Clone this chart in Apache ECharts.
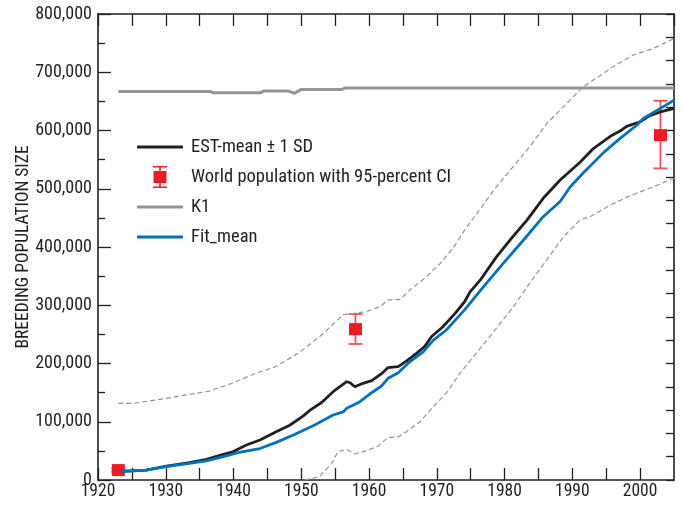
<!DOCTYPE html>
<html>
<head>
<meta charset="utf-8">
<script src="https://cdn.jsdelivr.net/npm/echarts@6/dist/echarts.min.js"></script>
<style>
  html, body { margin: 0; padding: 0; background: #fff; }
  #chart { width: 683px; height: 505px; }
</style>
</head>
<body>
<div id="chart"></div>
<script>
// Breeding population size, 1920-2005: estimated mean, +/- 1 SD band,
// fitted mean, carrying capacity K1 and world counts with 95% CI.

const estMean = [
  [1923.5, 15000], [1925, 15500], [1927.1, 17000], [1930.1, 24000], [1933.5, 30000],
  [1936, 35500], [1938.5, 44000], [1939.9, 48500], [1941.9, 60000], [1943.9, 68600],
  [1946.3, 83000], [1948.3, 94000], [1950.3, 110000], [1951.3, 120000], [1953, 133000],
  [1954.7, 151600], [1956.7, 168700], [1957.2, 167000], [1957.9, 160000], [1959.1, 166000],
  [1960.4, 170500], [1961.9, 183000], [1962.8, 193000], [1964.3, 194600], [1965.5, 204000],
  [1967, 217500], [1968.2, 229000], [1969.2, 246000], [1970.9, 263000], [1972.7, 286000],
  [1974.1, 306000], [1974.9, 323000], [1976.4, 343000], [1978.8, 383000], [1980.8, 412000],
  [1983.3, 446000], [1985.7, 483600], [1988.2, 515000], [1991.1, 545000], [1993.1, 569000],
  [1995.6, 590000], [1997.3, 601000], [1998, 607000], [2000, 615000], [2001.5, 626000],
  [2003, 632000], [2005, 638000]
];

const estUpper = [
  [1923, 131500], [1925.2, 131500], [1926.6, 134000], [1930, 140000], [1933.5, 147000],
  [1936.4, 152600], [1939.8, 166000], [1943.2, 183000], [1946.1, 194000], [1949.5, 217000],
  [1952.7, 246000], [1956.2, 284000], [1957.7, 286000], [1959.6, 289000], [1961.6, 297500],
  [1962.8, 309000], [1964.6, 310000], [1966, 326000], [1968.5, 349000], [1970.5, 372000],
  [1972.4, 398000], [1974.1, 429000], [1978.8, 503500], [1983.7, 572000], [1986.2, 612000],
  [1988.7, 641000], [1991.6, 675000], [1994.6, 698000], [1996, 709500], [1999, 729600],
  [2002, 741000], [2005, 758000]
];

const estLower = [
  [1950.5, 0], [1952.7, 5700], [1954.5, 28600], [1955.4, 48600], [1956.7, 52700],
  [1957.9, 44600], [1959.6, 50300], [1961.3, 58000], [1962.8, 73000], [1964.3, 74000],
  [1965.5, 83000], [1967.5, 100000], [1969.5, 126000], [1971.4, 149000], [1973.4, 183000],
  [1976.4, 226000], [1977.8, 246000], [1981.3, 297500], [1983.7, 337700], [1986.2, 377700],
  [1988.7, 417700], [1991.1, 446000], [1992.6, 452000], [1995.6, 472000], [1998.5, 488000],
  [2002, 503500], [2005, 518000]
];

const fitMean = [
  [1923.5, 15000], [1927.1, 17000], [1930.1, 23000], [1933.5, 28600], [1936, 33000],
  [1938.5, 40000], [1940.8, 47500], [1943.9, 54000], [1946.3, 64600], [1949, 78000],
  [1951.9, 94000], [1954.7, 111600], [1956.2, 117000], [1956.7, 123000], [1958.6, 134000],
  [1960.1, 147600], [1961.8, 161000], [1962.8, 174500], [1964.3, 184000], [1966, 203000],
  [1968, 220000], [1969.5, 240000], [1971.4, 257500], [1974.1, 292000], [1976.9, 332000],
  [1979.8, 372000], [1982.8, 412000], [1985.7, 452000], [1988.2, 478000], [1989.7, 503500],
  [1991.6, 527000], [1994.6, 562000], [1997, 586000], [1999.5, 609000], [2000.5, 621000],
  [2003, 638000], [2005, 652000]
];

const k1 = [
  [1923, 667000], [1936.5, 667000], [1937, 665000], [1944, 665000], [1944.5, 668000],
  [1948, 668000], [1949, 664000], [1950, 670500], [1956, 670500], [1956.5, 673000],
  [2005, 673000]
];

// year, count, lower 95% bound, upper 95% bound
const worldPop = [
  [1923, 17000, 14000, 20000],
  [1958, 259000, 233500, 285000],
  [2003, 592000, 535000, 651000]
];

const xTicks = { min: 1920, max: 2005, step: 5 };
const yTicks = { min: 0, max: 800000, step: 100000 };

const INK = '#231f20';
const GREY = '#939598';
const BLUE = '#0072bc';
const RED = '#ed1c24';
const FONT = '"Noto Sans Condensed", "Roboto Condensed", "DejaVu Sans Condensed", sans-serif';

// legend glyphs: a thick line across the 46x22 swatch, and a square with whiskers
const LINE_ICON = 'path://M0,0M46,22M0,9.6h46v2.8h-46z';
const ERRBAR_ICON = 'path://M0,0h14v1.6h-14z M6.2,0h1.6v22h-1.6z M0,20.4h14v1.6h-14z M0.5,5h13v12h-13z';

const chart = echarts.init(document.getElementById('chart'), null, { renderer: 'canvas' });

const hiddenLabel = { show: false };

chart.setOption({
  animation: false,
  backgroundColor: '#ffffff',
  grid: { left: 98, right: 9, top: 14, bottom: 25, outerBoundsMode: 'none', containLabel: false },
  legend: {
    orient: 'vertical',
    left: 137,
    top: 136,
    padding: 0,
    itemWidth: 46,
    itemHeight: 22,
    itemGap: 8,
    selectedMode: false,
    textStyle: { fontFamily: FONT, fontSize: 18.5, color: INK, padding: [0, 0, 0, 3] },
    itemStyle: { borderWidth: 0 },
    data: [
      { name: 'EST-mean ± 1 SD', icon: LINE_ICON, itemStyle: { color: INK } },
      { name: 'World population with 95-percent CI', icon: ERRBAR_ICON, itemStyle: { color: RED } },
      { name: 'K1', icon: LINE_ICON, itemStyle: { color: GREY } },
      { name: 'Fit_mean', icon: LINE_ICON, itemStyle: { color: BLUE } }
    ]
  },
  xAxis: [
    {
      type: 'value', position: 'bottom',
      min: xTicks.min, max: xTicks.max, interval: xTicks.step,
      axisLine: { show: true, onZero: false, lineStyle: { color: INK, width: 1.6 } },
      axisTick: { show: true, inside: true, length: 12, lineStyle: { color: INK, width: 1.3 } },
      splitLine: { show: false },
      axisLabel: {
        margin: 3, fontFamily: FONT, fontSize: 17.5, color: INK,
        showMaxLabel: false,
        formatter: v => (v % 10 === 0 ? String(v) : '')
      }
    },
    {
      type: 'value', position: 'top',
      min: xTicks.min, max: xTicks.max, interval: xTicks.step,
      axisLine: { show: true, onZero: false, lineStyle: { color: INK, width: 1.6 } },
      axisTick: { show: true, inside: true, length: 12, lineStyle: { color: INK, width: 1.3 } },
      splitLine: { show: false },
      axisLabel: hiddenLabel
    }
  ],
  yAxis: [
    {
      type: 'value', position: 'left',
      min: yTicks.min, max: yTicks.max, interval: yTicks.step,
      name: 'BREEDING POPULATION SIZE',
      nameLocation: 'middle', nameGap: 65, nameRotate: 90, nameMoveOverlap: false,
      nameTextStyle: { fontFamily: FONT, fontSize: 17.5, color: INK },
      axisLine: { show: true, onZero: false, lineStyle: { color: INK, width: 1.6 } },
      axisTick: { show: true, inside: true, length: 13, lineStyle: { color: INK, width: 1.3 } },
      minorTick: { show: true, splitNumber: 2, length: 7, lineStyle: { color: INK, width: 1.3 } },
      splitLine: { show: false },
      axisLabel: {
        margin: 6, fontFamily: FONT, fontSize: 18, color: INK,
        formatter: v => v.toLocaleString('en-US')
      }
    },
    {
      type: 'value', position: 'right',
      min: yTicks.min, max: yTicks.max, interval: 40000,
      axisLine: { show: true, onZero: false, lineStyle: { color: INK, width: 1.6 } },
      axisTick: { show: true, inside: true, length: 8, lineStyle: { color: INK, width: 1.3 } },
      splitLine: { show: false },
      axisLabel: hiddenLabel
    }
  ],
  series: [
    {
      name: 'K1', type: 'line', data: k1, symbol: 'none',
      lineStyle: { color: GREY, width: 3 }, itemStyle: { color: GREY }
    },
    {
      name: 'EST-mean + 1 SD', type: 'line', data: estUpper, symbol: 'none',
      lineStyle: { color: GREY, width: 1.2, type: [5, 3] }
    },
    {
      name: 'EST-mean - 1 SD', type: 'line', data: estLower, symbol: 'none',
      lineStyle: { color: GREY, width: 1.2, type: [5, 3] }
    },
    {
      name: 'EST-mean ± 1 SD', type: 'line', data: estMean, symbol: 'none',
      lineStyle: { color: INK, width: 2.8 }, itemStyle: { color: INK }
    },
    {
      name: 'Fit_mean', type: 'line', data: fitMean, symbol: 'none',
      lineStyle: { color: BLUE, width: 2.8 }, itemStyle: { color: BLUE }
    },
    {
      name: 'World population with 95-percent CI', type: 'custom',
      data: worldPop,
      itemStyle: { color: RED },
      encode: { x: 0, y: [1, 2, 3] },
      renderItem: (params, api) => {
        const c = api.coord([api.value(0), api.value(1)]);
        const lo = api.coord([api.value(0), api.value(2)]);
        const hi = api.coord([api.value(0), api.value(3)]);
        const bar = { stroke: '#f0505a', lineWidth: 1.8 };
        return {
          type: 'group',
          children: [
            { type: 'line', shape: { x1: c[0], y1: lo[1], x2: c[0], y2: hi[1] }, style: bar },
            { type: 'line', shape: { x1: c[0] - 7, y1: lo[1], x2: c[0] + 7, y2: lo[1] }, style: bar },
            { type: 'line', shape: { x1: c[0] - 7, y1: hi[1], x2: c[0] + 7, y2: hi[1] }, style: bar },
            { type: 'rect', shape: { x: c[0] - 6.5, y: c[1] - 6, width: 13, height: 12 },
              style: { fill: RED } }
          ]
        };
      }
    }
  ]
});
</script>
</body>
</html>
